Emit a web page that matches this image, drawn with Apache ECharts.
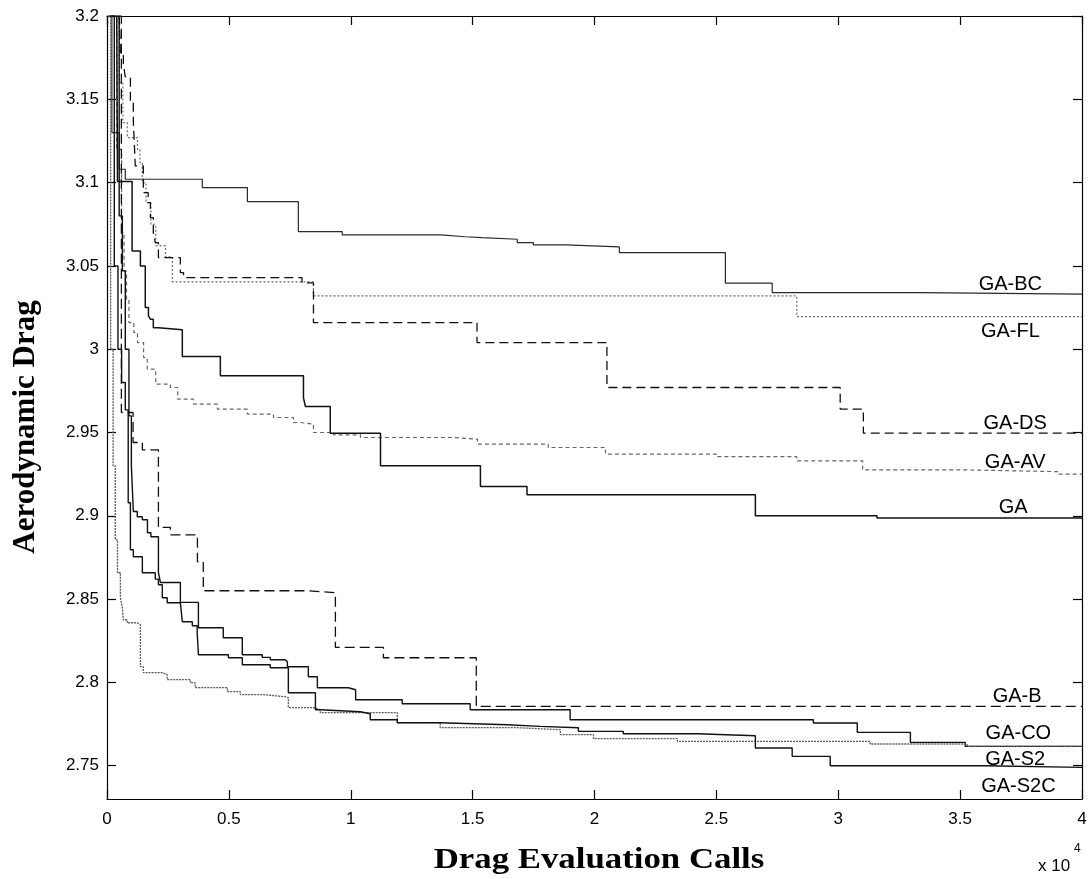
<!DOCTYPE html>
<html><head><meta charset="utf-8">
<script src="https://cdn.jsdelivr.net/npm/echarts@6/dist/echarts.min.js"></script>
<style>html,body{margin:0;padding:0;background:#fff}#c{width:1088px;height:879px}</style>
</head><body><div id="c"></div>
<script>
// ---- data (x in units of 10^4 drag evaluation calls, y = aerodynamic drag) ----
const seriesNames = ['GA-BC','GA-FL','GA-DS','GA-AV','GA','GA-B','GA-CO','GA-S2','GA-S2C'];
const xTicks = [0,0.5,1,1.5,2,2.5,3,3.5,4];
const yTicks = [2.75,2.8,2.85,2.9,2.95,3,3.05,3.1,3.15,3.2];

const gaBC = [[0.005,3.2],[0.02,3.13],[0.05,3.108],[0.075,3.102],[0.391,3.097],[0.576,3.0886],[0.785,3.0706],[0.965,3.0686],[1.37,3.0675],[1.47,3.067],[1.539,3.066],[1.683,3.064],[1.749,3.0626],[1.884,3.0614],[2.102,3.058],[2.537,3.0396],[2.729,3.034],[3.337,3.033],[4.0,3.033]];
const gaFL = [[0.01,3.2],[0.05,3.16],[0.065,3.136],[0.083,3.127],[0.125,3.12],[0.135,3.112],[0.145,3.1],[0.16,3.088],[0.18,3.075],[0.2,3.062],[0.24,3.0554],[0.268,3.0404],[0.847,3.032],[2.83,3.0196],[4.0,3.0196]];
const gaDS = [[0.05,3.2],[0.055,3.178],[0.067,3.1716],[0.075,3.1634],[0.096,3.148],[0.108,3.137],[0.116,3.11],[0.149,3.094],[0.169,3.088],[0.178,3.079],[0.19,3.07],[0.198,3.064],[0.211,3.055],[0.301,3.046],[0.314,3.043],[0.80,3.0398],[0.847,3.016],[1.518,3.004],[2.051,2.977],[3.008,2.964],[3.103,2.9496],[4.0,2.9496]];
const gaAV = [[0.02,3.2],[0.04,3.12],[0.06,3.07],[0.07,3.047],[0.08,3.03],[0.09,3.016],[0.11,3.01],[0.125,3.004],[0.15,2.995],[0.165,2.988],[0.2,2.979],[0.26,2.977],[0.29,2.970],[0.355,2.967],[0.453,2.964],[0.576,2.961],[0.683,2.959],[0.765,2.956],[0.793,2.955],[0.847,2.950],[0.93,2.9486],[1.04,2.947],[1.42,2.946],[1.52,2.943],[1.81,2.941],[2.045,2.937],[2.5,2.9355],[2.83,2.933],[3.10,2.9276],[3.5,2.9265],[3.9,2.925],[4.0,2.925]];
const ga = [[0.04,3.2],[0.043,3.1006],[0.103,3.059],[0.137,3.050],[0.157,3.025],[0.17,3.02],[0.178,3.018],[0.19,3.0128],[0.211,3.0116],[0.309,2.9956],[0.465,2.984],[0.806,2.9708],[0.814,2.9656],[0.916,2.9496],[1.122,2.930],[1.532,2.9176],[1.723,2.9126],[2.66,2.900],[3.159,2.8986],[4.0,2.8986]];
const gaB = [[0.05,3.2],[0.059,2.962],[0.107,2.944],[0.145,2.9396],[0.211,2.893],[0.26,2.8886],[0.371,2.8724],[0.395,2.855],[0.822,2.8538],[0.937,2.821],[1.134,2.8148],[1.515,2.7856],[4.0,2.7856]];
const gaCO = [[0.02,3.2],[0.05,3.08],[0.063,3.047],[0.075,3.0],[0.09,2.96],[0.1,2.93],[0.108,2.9026],[0.124,2.8994],[0.145,2.8976],[0.166,2.8898],[0.18,2.8874],[0.211,2.866],[0.219,2.86],[0.301,2.848],[0.375,2.8328],[0.477,2.8268],[0.555,2.8166],[0.637,2.815],[0.67,2.8136],[0.731,2.8124],[0.74,2.8094],[0.826,2.8034],[0.863,2.7968],[0.99,2.7956],[1.02,2.7896],[1.211,2.7872],[1.49,2.7836],[1.9,2.7776],[2.898,2.7756],[3.078,2.770],[3.296,2.764],[3.521,2.7616],[4.0,2.7616]];
const gaS2 = [[0.005,3.2],[0.015,3.0],[0.025,2.93],[0.034,2.8856],[0.043,2.8658],[0.055,2.8508],[0.063,2.8448],[0.067,2.8376],[0.083,2.8358],[0.124,2.8346],[0.137,2.8094],[0.149,2.8058],[0.227,2.8046],[0.247,2.8016],[0.342,2.7998],[0.362,2.7968],[0.494,2.7944],[0.547,2.7926],[0.642,2.7914],[0.731,2.7908],[0.744,2.7848],[0.847,2.7836],[0.875,2.7818],[1.191,2.7758],[1.367,2.7728],[1.683,2.7716],[1.86,2.7686],[1.996,2.7662],[2.34,2.7646],[3.131,2.763],[3.529,2.7616],[4.0,2.7616]];
const gaS2C = [[0.01,3.2],[0.03,3.05],[0.045,3.0],[0.06,2.98],[0.075,2.9636],[0.087,2.9078],[0.096,2.8796],[0.108,2.8754],[0.145,2.8658],[0.198,2.862],[0.211,2.8586],[0.227,2.8508],[0.247,2.8478],[0.301,2.8466],[0.309,2.8364],[0.35,2.834],[0.37,2.8298],[0.375,2.8166],[0.498,2.8148],[0.555,2.8106],[0.67,2.8088],[0.744,2.7938],[0.855,2.7836],[0.875,2.7824],[1.039,2.7812],[1.08,2.7776],[1.191,2.7758],[1.367,2.7746],[1.642,2.7736],[1.777,2.7728],[1.934,2.7706],[2.118,2.7692],[2.422,2.768],[2.66,2.7606],[2.811,2.7556],[2.967,2.750],[3.6,2.749],[4.0,2.7488]];

// ---- presentation ----
const seriesData = [gaBC, gaFL, gaDS, gaAV, ga, gaB, gaCO, gaS2, gaS2C];
const lineStyles = [
  {color:'#2a2a2a', width:1.2, type:'solid'},
  {color:'#6a6a6a', width:1.2, type:[2,2]},
  {color:'#111', width:1.3, type:[9,5]},
  {color:'#666', width:1.2, type:[4,3]},
  {color:'#111', width:1.5, type:'solid'},
  {color:'#111', width:1.3, type:[10,5]},
  {color:'#111', width:1.4, type:'solid'},
  {color:'#5a5a5a', width:1.3, type:[2,1]},
  {color:'#111', width:1.4, type:'solid'}
];
// label anchors (data coordinates)
const labelAnchors = [[3.706,3.0386],[3.706,3.0104],[3.726,2.9552],[3.726,2.9318],[3.718,2.9048],[3.734,2.7914],[3.739,2.7692],[3.726,2.7536],[3.739,2.7374]];

const axisLine = {show:true, onZero:false, lineStyle:{color:'#000', width:1.2}};
const tick = {show:true, inside:true, length:9, lineStyle:{color:'#000', width:1.2}};
const lblFont = {fontSize:17, fontFamily:'"Liberation Sans", Arial, sans-serif', color:'#000'};

const chart = echarts.init(document.getElementById('c'), null, {renderer:'canvas'});
chart.setOption({
  animation:false,
  backgroundColor:'#fff',
  grid:{left:107, right:6, top:16, bottom:80, containLabel:false, outerBoundsMode:'none'},
  xAxis:[
    {type:'value', position:'bottom', min:0, max:4, interval:0.5, axisLine, axisTick:tick,
     axisLabel:Object.assign({margin:12, customValues:xTicks}, lblFont), splitLine:{show:false}},
    {type:'value', position:'top', min:0, max:4, interval:0.5, axisLine, axisTick:tick,
     axisLabel:{show:false}, splitLine:{show:false}}
  ],
  yAxis:[
    {type:'value', position:'left', min:2.73, max:3.2, axisLine,
     axisTick:Object.assign({customValues:yTicks}, tick),
     axisLabel:Object.assign({margin:8, customValues:yTicks}, lblFont), splitLine:{show:false}},
    {type:'value', position:'right', min:2.73, max:3.2, axisLine,
     axisTick:Object.assign({customValues:yTicks}, tick),
     axisLabel:{show:false}, splitLine:{show:false}}
  ],
  series: seriesNames.map((name,i)=>({
    name, type:'line', step:'end', data:seriesData[i], showSymbol:false, symbol:'none',
    xAxisIndex:0, yAxisIndex:0, clip:true,
    lineStyle:lineStyles[i], itemStyle:{color:lineStyles[i].color},
    markPoint:{symbol:'circle', symbolSize:0, silent:true, animation:false,
      data:[{coord:labelAnchors[i], value:name}],
      label:{show:true, position:'inside', formatter:name, color:'#000', fontSize:20,
        fontFamily:'"Liberation Sans", Arial, sans-serif'}}
  })),
  graphic:[
    {type:'text', x:26, y:427, rotation:Math.PI/2, silent:true,
     style:{text:'Aerodynamic Drag', font:'bold 31px "Liberation Serif", "Times New Roman", serif',
       fill:'#000', align:'center', verticalAlign:'middle', textAlign:'center', textVerticalAlign:'middle'}},
    {type:'text', x:599, y:861, scaleX:1.2, silent:true,
     style:{text:'Drag Evaluation Calls', font:'bold 29px "Liberation Serif", "Times New Roman", serif',
       fill:'#000', align:'center', verticalAlign:'middle', textAlign:'center', textVerticalAlign:'middle'}},
    {type:'text', x:1038, y:866, silent:true,
     style:{text:'x 10', font:'17px "Liberation Sans", Arial, sans-serif', fill:'#000',
       align:'left', verticalAlign:'middle', textAlign:'left', textVerticalAlign:'middle'}},
    {type:'text', x:1074, y:849, silent:true,
     style:{text:'4', font:'12px "Liberation Sans", Arial, sans-serif', fill:'#000',
       align:'left', verticalAlign:'middle', textAlign:'left', textVerticalAlign:'middle'}}
  ]
});
</script></body></html>
